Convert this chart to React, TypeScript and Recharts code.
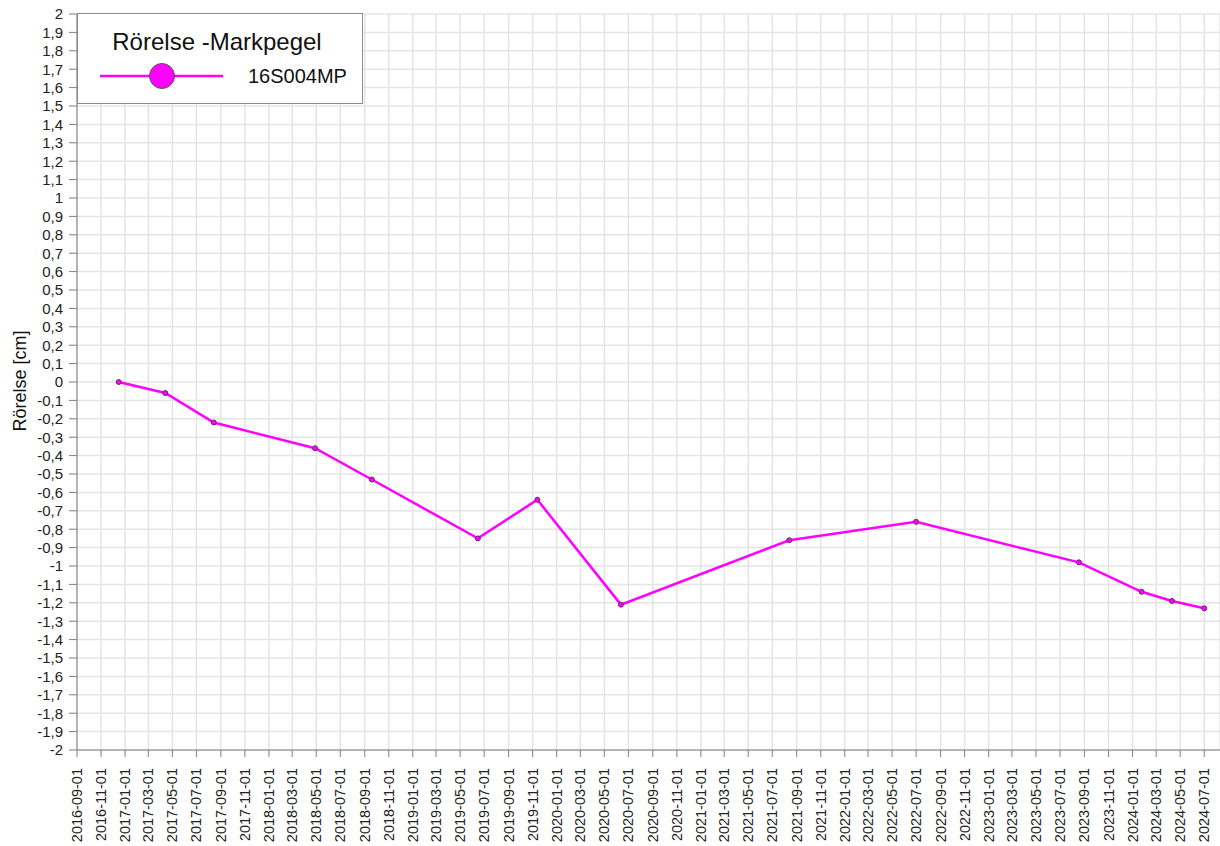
// Rörelse -Markpegel: settlement of marker 16S004MP over time
import { LineChart, Line, XAxis, YAxis, CartesianGrid, Legend } from 'recharts';

const measureDates = [
  '2016-12-16', '2017-04-13', '2017-08-14', '2018-04-28', '2018-09-19', '2019-06-15', '2019-11-13',
  '2020-06-12', '2021-08-13', '2022-07-01', '2023-08-18', '2024-01-24', '2024-04-10', '2024-07-01',
];
const movement = [0, -0.06, -0.22, -0.36, -0.53, -0.85, -0.64, -1.21, -0.86, -0.76, -0.98, -1.14, -1.19, -1.23];

const xTickLabels = [
  '2016-09-01', '2016-11-01', '2017-01-01', '2017-03-01', '2017-05-01', '2017-07-01', '2017-09-01', '2017-11-01',
  '2018-01-01', '2018-03-01', '2018-05-01', '2018-07-01', '2018-09-01', '2018-11-01', '2019-01-01', '2019-03-01',
  '2019-05-01', '2019-07-01', '2019-09-01', '2019-11-01', '2020-01-01', '2020-03-01', '2020-05-01', '2020-07-01',
  '2020-09-01', '2020-11-01', '2021-01-01', '2021-03-01', '2021-05-01', '2021-07-01', '2021-09-01', '2021-11-01',
  '2022-01-01', '2022-03-01', '2022-05-01', '2022-07-01', '2022-09-01', '2022-11-01', '2023-01-01', '2023-03-01',
  '2023-05-01', '2023-07-01', '2023-09-01', '2023-11-01', '2024-01-01', '2024-03-01', '2024-05-01', '2024-07-01',
];
const yTicks = [
  2, 1.9, 1.8, 1.7, 1.6, 1.5, 1.4, 1.3, 1.2, 1.1, 1, 0.9, 0.8, 0.7, 0.6, 0.5, 0.4, 0.3, 0.2, 0.1, 0,
  -0.1, -0.2, -0.3, -0.4, -0.5, -0.6, -0.7, -0.8, -0.9, -1, -1.1, -1.2, -1.3, -1.4, -1.5, -1.6, -1.7, -1.8, -1.9, -2,
];
const seriesName = '16S004MP';
const legendTitle = 'Rörelse -Markpegel';
const yTitle = 'Rörelse [cm]';

const toTs = (s: string) => Date.parse(s + 'T00:00:00Z');
const fromTs = (t: number) => new Date(t).toISOString().slice(0, 10);

const data = measureDates.map((d, i) => ({ t: toTs(d), value: movement[i] }));

const FONT = '"Liberation Sans", Arial, sans-serif';
const MAGENTA = '#ff00ff';

function XTick({ x, y, payload }: any) {
  return (
    <text
      x={x}
      y={y + 9}
      transform={`rotate(-90 ${x} ${y + 9})`}
      textAnchor="end"
      dy="0.35em"
      fontSize={14.5}
      fontFamily={FONT}
      fill="#222"
    >
      {fromTs(payload.value)}
    </text>
  );
}

function LegendBox() {
  return (
    <svg width={286} height={91} style={{ display: 'block' }}>
      <rect x={0.5} y={0.5} width={285} height={90} fill="#fff" stroke="#8c8c8c" />
      <text x={140} y={37} textAnchor="middle" fontSize={24} fontFamily={FONT} fill="#111">
        {legendTitle}
      </text>
      <line x1={23} y1={63} x2={146} y2={63} stroke={MAGENTA} strokeWidth={2.5} />
      <circle cx={85} cy={63} r={12.5} fill={MAGENTA} stroke="#555" strokeWidth={1} />
      <text x={171} y={70} fontSize={20} fontFamily={FONT} fill="#111">
        {seriesName}
      </text>
    </svg>
  );
}

const yLabel = () => (
  <text
    x={20}
    y={381}
    transform="rotate(-90 20 381)"
    textAnchor="middle"
    dy="0.35em"
    fontSize={18}
    fontFamily={FONT}
    fill="#111"
  >
    {yTitle}
  </text>
);

export default function App() {
  return (
    <div style={{ position: 'absolute', left: 0, top: 0, background: '#fff' }}>
      <LineChart width={1220} height={846} data={data} margin={{ top: 14, right: 0, bottom: 0, left: 0 }}>
        <CartesianGrid stroke="#e4e4e4" strokeWidth={1.5} />
        <XAxis
          dataKey="t"
          type="number"
          domain={[toTs('2016-09-01'), toTs('2024-08-10')]}
          ticks={xTickLabels.map(toTs)}
          interval={0}
          allowDataOverflow
          height={96}
          tickSize={7}
          stroke="#7f7f7f"
          tick={<XTick />}
        />
        <YAxis
          type="number"
          domain={[-2, 2]}
          ticks={yTicks}
          interval={0}
          width={77}
          tickSize={8}
          tickMargin={6}
          stroke="#7f7f7f"
          tick={{ fill: '#222', fontSize: 15, fontFamily: FONT }}
          tickFormatter={(v: number) => String(v).replace('.', ',')}
          label={yLabel}
        />
        <Legend
          layout="vertical"
          align="center"
          verticalAlign="middle"
          wrapperStyle={{ left: 77, top: 13, width: 286, height: 91 }}
          content={() => <LegendBox />}
        />
        <Line
          type="linear"
          dataKey="value"
          name={seriesName}
          stroke={MAGENTA}
          strokeWidth={2.5}
          dot={{ r: 2.5, fill: MAGENTA, stroke: '#6a2a6a', strokeWidth: 1 }}
          activeDot={false}
          isAnimationActive={false}
        />
      </LineChart>
    </div>
  );
}
